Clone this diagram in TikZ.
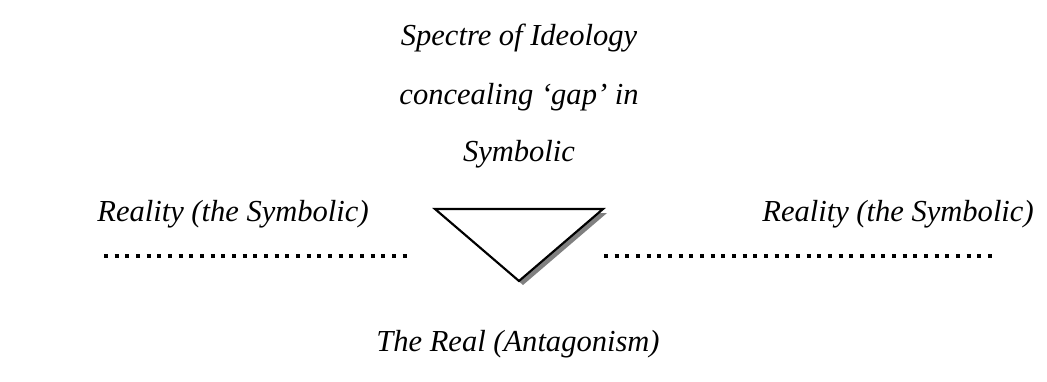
\documentclass[tikz,border=0pt]{standalone}
\usepackage{fontspec}
\setmainfont{Liberation Serif}
\usetikzlibrary{positioning}

\begin{document}
\begin{tikzpicture}[
  x=0.75pt, y=-0.75pt,
  every node/.style={font=\itshape\fontsize{22.9}{26}\selectfont,inner sep=0pt},
  dotline/.style={line width=3pt,dash pattern=on 3pt off 5pt},
  wedge/.style={draw,line width=1.6pt,fill=white,line join=miter},
  wedgeshadow/.style={fill=black!50}
]
  \useasboundingbox (0,0) rectangle (1047,382);
  % labels
  \node (spectre) at (519,38) {Spectre of Ideology};
  \node (conceal) at (519,97) {concealing `gap' in};
  \node (symb) at (519,154) {Symbolic};
  \node (realL) at (233,214) {Reality (the Symbolic)};
  \node (realR) at (898,214) {Reality (the Symbolic)};
  \node (real) at (518,344) {The Real (Antagonism)};
  % the gap
  \coordinate (tl) at (435,209);
  \coordinate (tr) at (603,209);
  \coordinate (bt) at (519,281);
  \fill[wedgeshadow] ([shift={(4,4)}]tl) -- ([shift={(4,4)}]tr) -- ([shift={(4,4)}]bt) -- cycle;
  \draw[wedge] (tl) -- (tr) -- (bt) -- cycle;
  % dotted lines
  \coordinate (lA) at (104,256);
  \coordinate (lB) at (410,256);
  \coordinate (rA) at (604,256);
  \coordinate (rB) at (995,256);
  \draw[dotline] (lA) -- (lB);
  \draw[dotline] (rA) -- (rB);
\end{tikzpicture}
\end{document}
